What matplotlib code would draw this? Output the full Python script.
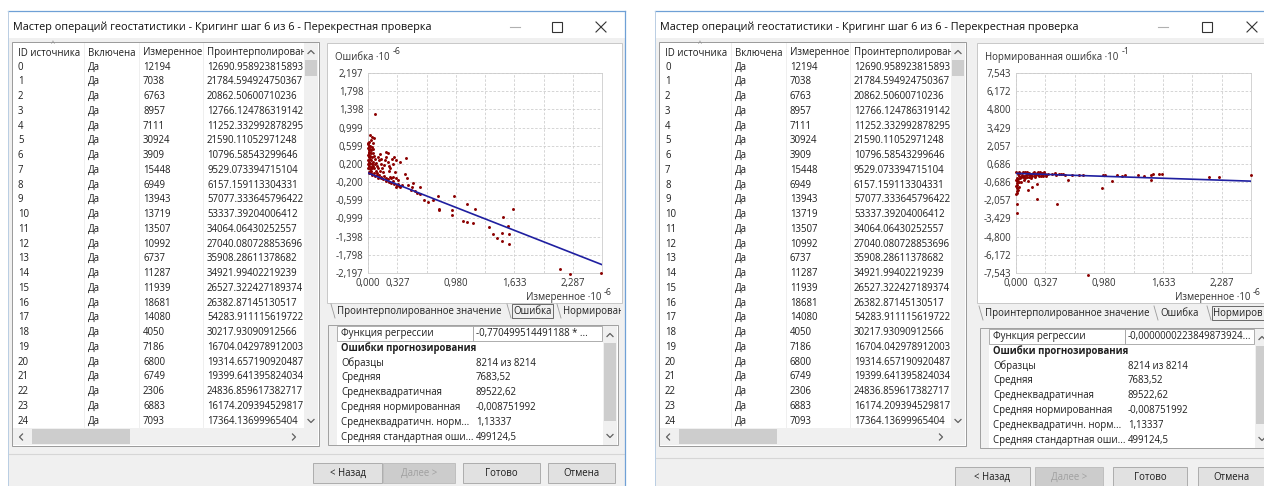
import numpy as np
import matplotlib
matplotlib.use("Agg")
import matplotlib.pyplot as plt
from matplotlib.patches import Rectangle

plt.rcParams["font.family"] = ["Open Sans", "DejaVu Sans"]

W, H = 1264, 486
FS = 6.9
TITLE_FS = 7.8

# ---- texts and table data ----
title = "Мастер операций геостатистики - Кригинг шаг 6 из 6 - Перекрестная проверка"
col_headers = ["ID источника", "Включена", "Измеренное", "Проинтерполирован"]
source_ids = [str(i) for i in range(25)]
included = ["Да"] * 25
measured = [12194, 7038, 6763, 8957, 7111, 30924, 3909, 15448, 6949, 13943,
            13719, 13507, 10992, 6737, 11287, 11939, 18681, 14080, 4050, 7186,
            6800, 6749, 2306, 6883, 7093]
interpolated = ["12690.958923815893", "21784.594924750367", "20862.50600710236",
                "12766.124786319142", "11252.332992878295", "21590.11052971248",
                "10796.58543299646", "9529.073394715104", "6157.159113304331",
                "57077.333645796422", "53337.39204006412", "34064.06430252557",
                "27040.080728853696", "35908.28611378682", "34921.99402219239",
                "26527.322427189374", "26382.87145130517", "54283.911115619722",
                "30217.93090912566", "16704.042978912003", "19314.657190920487",
                "19399.641395824034", "24836.859617382717", "16174.209394529817",
                "17364.13699965404"]

tab_names = ["Проинтерполированное значение", "Ошибка", "Нормированная ошибка"]
stat_heading = "Ошибки прогнозирования"
stat_labels = ["Образцы", "Средняя", "Среднеквадратичная", "Средняя нормированная",
               "Среднеквадратичн. норм...", "Средняя стандартная оши..."]
stat_values = ["8214 из 8214", "7683,52", "89522,62", "-0,008751992", "1,13337", "499124,5"]
buttons = ["< Назад", "Далее >", "Готово", "Отмена"]

# ---- chart data (display units) ----
x_max = 2.6135

err_ylim = 2.197
err_reg = (-0.770499514491188, 0.0)
err_reg_text = "-0,770499514491188 * ..."
err_pts = [
    (0.004, 0.63), (0.010, 0.59), (0.004, 0.55), (0.012, 0.51), (0.006, 0.47), (0.014, 0.43),
    (0.004, 0.39), (0.010, 0.35), (0.018, 0.31), (0.004, 0.28), (0.012, 0.25), (0.022, 0.22),
    (0.004, 0.19), (0.014, 0.16), (0.028, 0.13), (0.004, 0.10), (0.018, 0.08), (0.032, 0.05),
    (0.008, 0.03), (0.038, 0.01), (0.010, -0.01), (0.024, 0.60), (0.020, 0.53), (0.028, 0.45),
    (0.024, 0.37), (0.034, 0.29), (0.040, 0.20), (0.044, 0.12), (0.004, 0.67), (0.008, 0.44),
    (0.016, 0.38), (0.008, 0.20), (0.026, 0.03),
    (0.075, 1.29), (0.020, 0.83), (0.042, 0.78), (0.066, 0.77), (0.030, 0.72), (0.016, 0.69),
    (0.052, 0.66), (0.046, 0.58), (0.060, 0.52), (0.036, 0.50),
    (0.060, 0.44), (0.070, 0.38), (0.080, 0.30), (0.090, 0.22), (0.100, 0.15), (0.060, 0.25),
    (0.070, 0.10), (0.085, 0.05), (0.095, 0.00), (0.100, -0.05), (0.110, 0.35), (0.120, 0.28),
    (0.130, 0.42), (0.140, 0.30), (0.150, 0.20), (0.160, 0.10), (0.170, 0.02), (0.180, -0.06),
    (0.190, 0.28), (0.205, 0.46), (0.224, 0.44), (0.200, 0.35), (0.220, 0.25), (0.230, 0.15),
    (0.240, 0.05), (0.250, -0.08), (0.270, 0.30), (0.290, 0.35), (0.280, 0.20), (0.317, 0.28),
    (0.355, 0.24), (0.420, 0.32), (0.300, 0.02), (0.310, -0.10), (0.260, -0.10), (0.200, -0.10),
    (0.150, -0.08), (0.120, -0.05), (0.220, -0.14), (0.280, -0.18), (0.330, -0.25), (0.050, 0.35),
    (0.055, 0.15), (0.065, 0.00), (0.075, 0.20), (0.110, 0.10), (0.130, 0.05), (0.180, 0.18),
    (0.250, 0.12),
    (0.05, -0.05), (0.08, -0.07), (0.11, -0.10), (0.14, -0.12), (0.17, -0.14), (0.20, -0.17),
    (0.23, -0.19), (0.26, -0.21), (0.29, -0.24), (0.32, -0.27), (0.35, -0.29), (0.38, -0.26),
    (0.410, -0.03), (0.437, -0.10), (0.448, -0.27), (0.504, -0.23), (0.496, -0.31), (0.549, -0.45),
    (0.520, -0.40), (0.579, -0.46), (0.672, -0.64), (0.623, -0.59), (0.728, -0.60), (0.586, -0.31),
    (0.478, -0.38), (0.336, -0.15), (0.280, -0.09), (0.317, -0.31), (0.355, -0.31),
    (0.784, -0.51), (0.795, -0.78), (0.795, -0.82), (0.959, -0.51), (0.940, -0.82), (0.933, -0.93),
    (1.109, -0.69), (1.195, -0.78), (1.056, -1.06), (1.109, -1.08), (1.168, -1.10), (1.355, -1.19),
    (1.400, -1.33), (1.445, -1.42), (1.493, -1.32), (1.493, -1.49), (1.512, -0.97), (1.568, -1.16),
    (1.579, -1.33), (1.579, -1.57), (1.616, -0.80), (2.146, -2.11), (2.251, -2.21), (2.606, -2.20),
]

norm_ylim = 7.543
norm_reg = (-0.2238, -0.03)
norm_reg_text = "-0,0000000223849873924..."
norm_pts = [
    (0.005, 0.05), (0.02, -0.10), (0.035, -0.25), (0.05, 0.02), (0.065, -0.15), (0.08, -0.30),
    (0.095, 0.04), (0.11, -0.12), (0.125, -0.28), (0.14, 0.00), (0.155, -0.18), (0.17, -0.35),
    (0.185, 0.03), (0.2, -0.10), (0.215, -0.22), (0.23, 0.01), (0.245, -0.14), (0.26, -0.05),
    (0.275, -0.2), (0.29, 0.02), (0.305, -0.1), (0.32, -0.04), (0.335, -0.12), (0.01, -0.35),
    (0.03, 0.05), (0.045, -0.4), (0.06, -0.3), (0.075, 0.06), (0.09, -0.2), (0.1, -0.38),
    (0.12, 0.05), (0.135, -0.08), (0.15, -0.3), (0.165, -0.05), (0.18, -0.25), (0.195, 0.05),
    (0.21, -0.3), (0.225, -0.05), (0.24, 0.04), (0.255, -0.25), (0.27, 0.05), (0.285, -0.15),
    (0.3, -0.25), (0.315, 0.04), (0.33, -0.2),
    (0.004, -0.5), (0.012, -0.62), (0.006, -0.75), (0.016, -0.88), (0.004, -1.0), (0.01, -1.12),
    (0.02, -1.25), (0.006, -1.38), (0.014, -1.5), (0.028, -0.7), (0.03, -1.05), (0.004, -1.6),
    (0.024, -0.45),
    (0.015, -2.36), (0.015, -3.02), (0.137, -1.26), (0.174, -1.05), (0.238, -0.85), (0.238, -1.93),
    (0.46, -2.36), (0.575, -0.50), (0.805, -7.7), (0.954, -1.11), (1.073, -0.63), (0.06, -0.7),
    (0.09, -0.55), (0.13, -0.6),
    (0.36, -0.05), (0.40, -0.10), (0.43, -0.02), (0.45, -0.12), (0.48, -0.06), (0.50, -0.08),
    (0.52, -0.04), (0.55, -0.15), (0.62, -0.12), (0.70, -0.15), (0.75, -0.12), (0.97, -0.18),
    (0.99, -0.12), (1.12, -0.15), (1.18, -0.25), (1.21, -0.12), (1.36, -0.18), (1.42, -0.22),
    (1.50, -0.55), (1.50, -0.18), (1.52, -0.10), (1.59, -0.10), (1.62, -0.10), (2.15, -0.30),
    (2.26, -0.30), (2.61, -0.18),
]

# ---- window geometry (pixels) ----
LEFT = dict(wx0=8, wx1=625, ctrl=(515, 557, 601), tx=12, px0=327, px1=622,
            ax=(368, 73, 602, 273), sx0=328, sx1=618, sy=325, sep=454,
            btn_x=(313, 383, 463, 548), btn_w=(69, 72, 77, 67), btn_y=463,
            tab_x=(337, 513, 563), tab_y=311, active=1,
            ylabel="Ошибка ·10", yexp="-6", pts=err_pts, ylim=err_ylim,
            reg=err_reg, reg_text=err_reg_text)
RIGHT = dict(wx0=655, wx1=1266, ctrl=(1163, 1207, 1252), tx=659, px0=977, px1=1266,
             ax=(1016, 73, 1251, 273), sx0=980, sx1=1268, sy=328, sep=458,
             btn_x=(955, 1035, 1113, 1198), btn_w=(75, 68, 74, 66), btn_y=467,
             tab_x=(985, 1160, 1213), tab_y=313, active=2,
             ylabel="Нормированная ошибка ·10", yexp="-1", pts=norm_pts, ylim=norm_ylim,
             reg=norm_reg, reg_text=norm_reg_text)

fig = plt.figure(figsize=(W / 100, H / 100), dpi=100)
fig.patch.set_facecolor("white")
bg = fig.add_axes([0, 0, 1, 1])
bg.set_xlim(0, W)
bg.set_ylim(H, 0)
bg.axis("off")

TXT = "#1e1e1e"


def box(x, y, w, h, fc, ec="none", lw=0.7, z=1):
    bg.add_patch(Rectangle((x, y), w, h, fc=fc, ec=ec, lw=lw, zorder=z))


def txt(x, y, s, size=FS, color=TXT, ha="left", weight="normal", z=3):
    return bg.text(x, y, s, fontsize=size, color=color, ha=ha, va="center",
                   fontweight=weight, zorder=z)


def right_edge(t):
    bb = t.get_window_extent(renderer=fig.canvas.get_renderer())
    return bg.transData.inverted().transform((bb.x1, 0))[0]


def chevron(x, y, d, s=3.0, color="#606060", z=6):
    if d == "up":
        xs, ys = [x - s, x, x + s], [y + s / 2, y - s / 2, y + s / 2]
    elif d == "down":
        xs, ys = [x - s, x, x + s], [y - s / 2, y + s / 2, y - s / 2]
    elif d == "left":
        xs, ys = [x + s / 2, x - s / 2, x + s / 2], [y - s, y, y + s]
    else:
        xs, ys = [x - s / 2, x + s / 2, x - s / 2], [y - s, y, y + s]
    bg.plot(xs, ys, color=color, lw=0.9, zorder=z)


def fmt(v):
    return f"{v:.3f}".replace(".", ",")


def draw_chart(g):
    x0, y0, x1, y1 = g["ax"]
    ax = fig.add_axes([x0 / W, 1 - y1 / H, (x1 - x0) / W, (y1 - y0) / H])
    px, py = np.array(g["pts"]).T
    ax.scatter(px, py, s=4.5, c="#8b0000", linewidths=0, zorder=3, clip_on=False)
    xs = np.array([0, x_max])
    ax.plot(xs, g["reg"][0] * xs + g["reg"][1], color="#1f1fa0", lw=1.2, zorder=4)
    ax.set_xlim(0, x_max)
    ax.set_ylim(-g["ylim"], g["ylim"])
    yt = np.linspace(g["ylim"], -g["ylim"], 12)
    ax.set_yticks(yt, [fmt(v) for v in yt])
    xt = np.linspace(0, x_max, 9)
    ax.set_xticks(xt, [fmt(v) if i in (0, 1, 3, 5, 7) else "" for i, v in enumerate(xt)])
    ax.tick_params(length=0, labelsize=FS, colors="#333333", pad=3.5)
    ax.grid(True, ls=(0, (3, 2)), color="#cfcfcf", lw=0.6)
    ax.set_axisbelow(True)
    for s in ax.spines.values():
        s.set_color("#cccccc")
        s.set_linewidth(0.6)
    # axis titles
    t = txt(g["px0"] + 8, 57, g["ylabel"], color="#333333")
    txt(right_edge(t) + 3, 52, g["yexp"], size=FS - 0.6, color="#333333")
    txt(x1 - 1, 297, "Измеренное ·10", ha="right", color="#333333")
    txt(x1 + 2, 292, "-6", size=FS - 0.6, color="#333333")


def draw_window(g):
    wx0, wx1 = g["wx0"], g["wx1"]
    # frame
    box(wx0, 11, wx1 - wx0, 27, "white", z=0.5)
    box(wx0, 38, wx1 - wx0, H - 38, "#f0f0f0", z=0.5)
    bg.plot([wx0, wx1], [11, 11], color="#6fa0d6", lw=0.9, zorder=8)
    bg.plot([wx0, wx0], [11, H], color="#b9cde3", lw=0.7, zorder=8)
    bg.plot([wx1, wx1], [11, H], color="#6fa0d6", lw=0.9, zorder=8)
    txt(wx0 + 5, 27, title, size=TITLE_FS, color="#111111")
    c1, c2, c3 = g["ctrl"]
    bg.plot([c1 - 5, c1 + 5], [27, 27], color="#b0b0b0", lw=0.8, zorder=3)
    box(c2 - 5, 22, 10, 10, "none", ec="#333333", lw=0.8, z=3)
    bg.plot([c3 - 5, c3 + 5], [22, 32], color="#333333", lw=0.8, zorder=3)
    bg.plot([c3 - 5, c3 + 5], [32, 22], color="#333333", lw=0.8, zorder=3)

    # table
    tx = g["tx"]
    box(tx, 42, 307, 404, "white", ec="#9a9a9a", z=1)
    col_x = [tx + 6, tx + 76, tx + 131, tx + 195]
    for cx in col_x[1:]:
        bg.plot([cx - 4, cx - 4], [43, 427], color="#ececec", lw=0.6, zorder=1.5)
    for cx, h in zip(col_x, col_headers):
        txt(cx, 53, h)
    txt(tx + 39, 45, "^", size=5, color="#888888")
    for i in range(25):
        ry = 67 + i * 14.75
        txt(col_x[0], ry, source_ids[i])
        txt(col_x[1], ry, included[i])
        txt(col_x[2], ry, str(measured[i]))
        txt(col_x[3], ry, interpolated[i], z=2)
    # scrollbars
    box(tx + 292, 43, 14, 385, "#f0f0f0", z=4)
    box(tx + 293, 60, 12, 16, "#cdcdcd", z=5)
    chevron(tx + 299, 52, "up")
    chevron(tx + 299, 421, "down")
    box(tx + 1, 428, 305, 17, "#f0f0f0", z=4)
    box(tx + 20, 429, 98, 15, "#cdcdcd", z=5)
    chevron(tx + 9, 437, "left")
    chevron(tx + 282, 437, "right")

    # chart panel
    box(g["px0"], 43, g["px1"] - g["px0"], 260, "white", ec="#c8c8c8", z=1)
    draw_chart(g)

    # tabs (cut at the window edge, as in the dialog)
    ty = g["tab_y"]
    tab_clip = Rectangle((g["px0"], ty - 9), wx1 - g["px0"] - 4, 18, transform=bg.transData)
    for i, (tab_x, name) in enumerate(zip(g["tab_x"], tab_names)):
        t = txt(tab_x, ty, name, color="#222222", z=3)
        t.set_clip_on(True)
        t.set_clip_path(tab_clip)
        bg.plot([tab_x - 6, tab_x - 2], [ty - 7, ty + 7], color="#9a9a9a", lw=0.6, zorder=3)
        if i == g["active"]:
            ex = min(right_edge(t), wx1 - 4)
            box(tab_x - 1.5, ty - 7, ex - tab_x + 3, 14, "none", ec="#555555", lw=0.6, z=3)

    # statistics panel
    sx0, sy = g["sx0"], g["sy"]
    box(sx0, sy, g["sx1"] - sx0, 120, "white", ec="#a0a0a0", z=1)
    box(sx0 + 1, sy + 1, 8, 119, "#f0f0f0", z=1.2)
    box(sx0 + 9, sy + 1, 136, 15, "white", ec="#a0a0a0", lw=0.6, z=1.3)
    box(sx0 + 145, sy + 1, 129, 15, "white", ec="#a0a0a0", lw=0.6, z=1.3)
    txt(sx0 + 13, sy + 8.5, "Функция регрессии")
    txt(sx0 + 148, sy + 8.5, g["reg_text"])
    txt(sx0 + 13, sy + 23, stat_heading, weight="bold")
    for k, (lab, val) in enumerate(zip(stat_labels, stat_values)):
        txt(sx0 + 13, sy + 38 + k * 14.8, lab)
        txt(sx0 + 148, sy + 38 + k * 14.8, val)
    box(sx0 + 275, sy + 1, 14, 119, "#f0f0f0", z=4)
    box(sx0 + 276, sy + 18, 12, 78, "#cdcdcd", z=5)
    chevron(sx0 + 282, sy + 10, "up")
    chevron(sx0 + 282, sy + 111, "down")

    # separator and buttons
    bg.plot([wx0 + 1, wx1 - 1], [g["sep"], g["sep"]], color="#d6d6d6", lw=0.8, zorder=2)
    by = g["btn_y"]
    for i, (bx, bw, name) in enumerate(zip(g["btn_x"], g["btn_w"], buttons)):
        disabled = i == 1
        box(bx, by, bw, 20, "#cccccc" if disabled else "#e1e1e1",
            ec="#bfbfbf" if disabled else "#adadad", lw=0.7, z=2)
        txt(bx + bw / 2, by + 10, name, ha="center",
            color="#a0a0a0" if disabled else TXT)


draw_window(LEFT)
draw_window(RIGHT)
# gap between the two screenshots
box(626, 0, 29, H, "white", z=7)

fig.savefig("out.png", dpi=100, facecolor="white")
